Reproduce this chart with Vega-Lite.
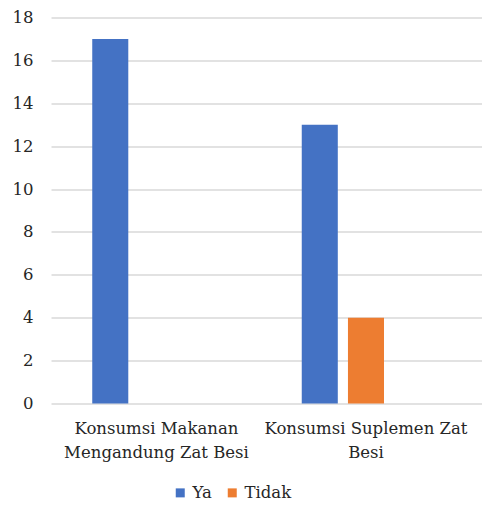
{
  "$schema": "https://vega.github.io/schema/vega-lite/v6.json",
  "width": 431,
  "height": 386,
  "autosize": "none",
  "padding": {"left": 51, "top": 17.5, "right": 0, "bottom": 102.5},
  "background": "white",
  "config": {
    "font": "DejaVu Serif",
    "view": {"stroke": null}
  },
  "data": {
    "values": [
      {"kategori": "Konsumsi Makanan Mengandung Zat Besi", "jawaban": "Ya", "jumlah": 17},
      {"kategori": "Konsumsi Makanan Mengandung Zat Besi", "jawaban": "Tidak", "jumlah": 0},
      {"kategori": "Konsumsi Suplemen Zat Besi", "jawaban": "Ya", "jumlah": 13},
      {"kategori": "Konsumsi Suplemen Zat Besi", "jawaban": "Tidak", "jumlah": 4}
    ]
  },
  "mark": {"type": "bar"},
  "encoding": {
    "x": {
      "field": "kategori",
      "type": "nominal",
      "sort": null,
      "scale": {"paddingInner": 0, "paddingOuter": 0.0286, "align": 0.06},
      "axis": {
        "title": null,
        "labelAngle": 0,
        "domain": false,
        "ticks": false,
        "labelFont": "DejaVu Serif",
        "labelFontSize": 16.5,
        "labelColor": "#262626",
        "labelPadding": 17,
        "labelLineHeight": 24,
        "labelLimit": 0,
        "labelExpr": "datum.value == 'Konsumsi Makanan Mengandung Zat Besi' ? ['Konsumsi Makanan', 'Mengandung Zat Besi'] : ['Konsumsi Suplemen Zat', 'Besi']"
      }
    },
    "xOffset": {
      "field": "jawaban",
      "type": "nominal",
      "scale": {"domain": ["Ya", "Tidak", "-"], "paddingInner": 0.22, "paddingOuter": 0.877}
    },
    "y": {
      "field": "jumlah",
      "type": "quantitative",
      "scale": {"domain": [0, 18], "nice": false},
      "axis": {
        "title": null,
        "values": [0, 2, 4, 6, 8, 10, 12, 14, 16, 18],
        "domain": false,
        "ticks": false,
        "labelFont": "DejaVu Serif",
        "labelFontSize": 16.5,
        "labelColor": "#262626",
        "labelPadding": 18,
        "gridColor": "#d9d9d9",
        "gridWidth": 1.3
      }
    },
    "color": {
      "field": "jawaban",
      "type": "nominal",
      "scale": {"domain": ["Ya", "Tidak"], "range": ["#4472C4", "#ED7D31"]},
      "legend": {
        "title": null,
        "orient": "none",
        "direction": "horizontal",
        "legendX": 121,
        "legendY": 467,
        "symbolType": "square",
        "symbolSize": 81,
        "symbolStrokeWidth": 0,
        "labelFont": "DejaVu Serif",
        "labelFontSize": 16.5,
        "labelColor": "#262626",
        "labelOffset": 4,
        "columnPadding": 12
      }
    }
  }
}
